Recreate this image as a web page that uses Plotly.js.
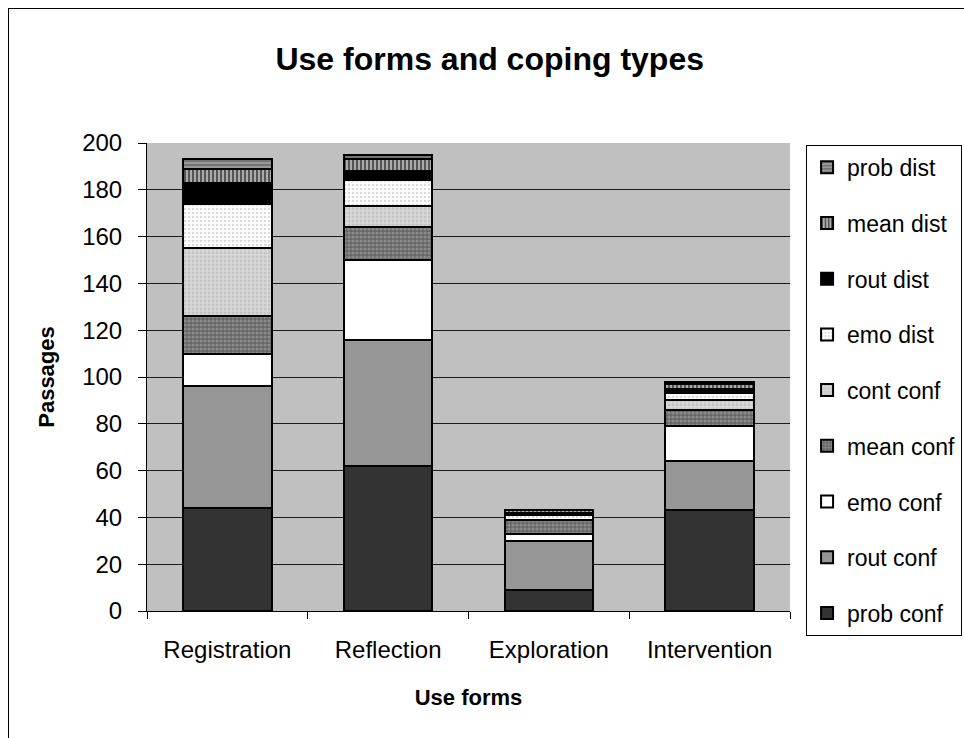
<!DOCTYPE html>
<html><head><meta charset="utf-8">
<script src="https://cdn.plot.ly/plotly-3.0.1.min.js"></script>
<style>
html,body{margin:0;padding:0;background:#fff;overflow:hidden;}
#frame{position:absolute;left:8px;top:8px;width:980px;height:760px;border-left:1px solid #000;border-top:1px solid #000;pointer-events:none;z-index:5;}
#chart{position:absolute;left:0;top:0;width:964px;height:738px;}
</style></head>
<body>
<div id="chart"></div>
<div id="frame"></div>
<script>
var categories = ["Registration", "Reflection", "Exploration", "Intervention"];
var seriesNames = ["prob conf", "rout conf", "emo conf", "mean conf", "cont conf", "emo dist", "rout dist", "mean dist", "prob dist"];
var probConf = [44, 62, 9, 43];
var routConf = [52, 54, 21, 21];
var emoConf  = [14, 34, 3, 15];
var meanConf = [16, 14, 6, 7];
var contConf = [29, 9, 0, 4];
var emoDist  = [19, 11, 2, 3];
var routDist = [9, 4, 1, 2];
var meanDist = [6, 5, 1, 2];
var probDist = [4, 2, 0, 1];
var yTicks = [0, 20, 40, 60, 80, 100, 120, 140, 160, 180, 200];

var values = [probConf, routConf, emoConf, meanConf, contConf, emoDist, routDist, meanDist, probDist];
var styles = [
  {color:"#333333"},
  {color:"#969696"},
  {color:"#ffffff"},
  {color:"#6e6e6e", pattern:{shape:".", fgcolor:"#8c8c8c", bgcolor:"#666666", size:4, solidity:0.5}},
  {color:"#d2d2d2", pattern:{shape:".", fgcolor:"#c4c4c4", bgcolor:"#d8d8d8", size:4, solidity:0.4}},
  {color:"#ffffff", pattern:{shape:".", fgcolor:"#dadada", bgcolor:"#ffffff", size:4, solidity:0.3}},
  {color:"#000000"},
  {color:"#808080", pattern:{shape:"|", fgcolor:"#555555", bgcolor:"#aaaaaa", size:4, solidity:0.5}},
  {color:"#888888", pattern:{shape:"-", fgcolor:"#6a6a6a", bgcolor:"#999999", size:4, solidity:0.4}}
];

var traces = seriesNames.map(function(n, i){
  var m = {color: styles[i].color, line:{color:"#000", width:2}};
  if (styles[i].pattern) m.pattern = styles[i].pattern;
  return {type:"bar", name:n, x:categories, y:values[i], marker:m, legendgroup:"g"+i,
          legendrank: 100 - i, hoverinfo:"y+name"};
});

var layout = {
  width:964, height:738,
  barmode:"stack", bargap:0.45,
  paper_bgcolor:"#ffffff", plot_bgcolor:"#c0c0c0",
  margin:{l:147, r:174, t:143, b:127, autoexpand:false},
  font:{family:"Liberation Sans, Arial, sans-serif", color:"#000", size:22},
  title:{text:"<b>Use forms and coping types</b>", font:{size:32}, x:0.508, xanchor:"center", y:0.921, yanchor:"middle"},
  xaxis:{title:{text:"<b>Use forms</b>", font:{size:22}, standoff:27}, showline:true, linecolor:"#000", linewidth:1,
         ticks:"outside", tickson:"boundaries", ticklen:7, tickcolor:"#000", showgrid:false, tickfont:{size:24},
         ticklabelstandoff:17},
  yaxis:{title:{text:"<b>Passages</b>", font:{size:22}, standoff:21}, range:[0,200], tickvals:yTicks, ticktext:yTicks.map(String),
         showline:true, linecolor:"#000", linewidth:1, ticks:"outside", ticklen:8, tickcolor:"#000",
         showgrid:true, gridcolor:"#1a1a1a", gridwidth:1, zeroline:false, tickfont:{size:24}, ticklabelstandoff:11},
  legend:{x:1.025, xanchor:"left", y:0.996, yanchor:"top", bordercolor:"#000", borderwidth:1, bgcolor:"#fff",
          traceorder:"grouped", tracegroupgap:22.8, font:{size:23}, itemwidth:30, maxheight:620},
  showlegend:true
};

Plotly.newPlot("chart", traces, layout, {displayModeBar:false, staticPlot:true});
</script>
</body></html>
